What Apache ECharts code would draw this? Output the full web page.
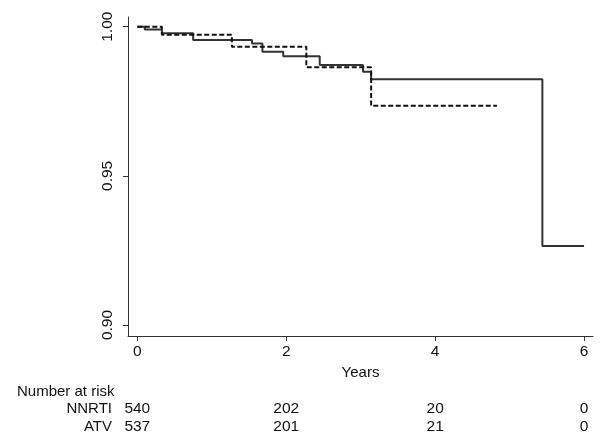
<!DOCTYPE html>
<html>
<head>
<meta charset="utf-8">
<script src="https://cdn.jsdelivr.net/npm/echarts@6/dist/echarts.min.js"></script>
<style>
html,body{margin:0;padding:0;background:#fff;}
#c{width:600px;height:444px;}
</style>
</head>
<body>
<div id="c"></div>
<script>
// Kaplan-Meier step data (time in years, survival)
var timesNNRTI = [0, 0.10, 0.33, 0.75, 1.54, 1.68, 1.96, 2.45, 3.03, 3.14, 5.44, 6.0];
var survNNRTI  = [1.000, 0.9991, 0.9978, 0.9955, 0.9944, 0.9916, 0.9901, 0.9872, 0.9849, 0.9824, 0.9265, 0.9265];
var timesATV   = [0, 0.33, 1.27, 2.27, 3.14, 4.83];
var survATV    = [1.000, 0.9973, 0.9933, 0.9864, 0.9735, 0.9735];

var xTicks = [0, 2, 4, 6];
var yTicks = [0.90, 0.95, 1.00];
var riskTimes = [0, 2, 4, 6];
var riskNNRTI = [540, 202, 20, 0];
var riskATV   = [537, 201, 21, 0];
var groupNames = ['NNRTI', 'ATV'];

function pairs(t, s) { return t.map(function (v, i) { return [v, s[i]]; }); }
function riskLookup(arr) {
  return function (v) {
    var i = riskTimes.indexOf(Math.round(v));
    return i >= 0 ? String(arr[i]) : '';
  };
}

var font = 'Liberation Sans, Arial, sans-serif';
var txt = '#111';
var axisCol = '#333';
var xMin = -0.125, xMax = 6.12;

function riskAxis(name, arr, off) {
  return {
    type: 'value', min: xMin, max: xMax, position: 'bottom', offset: off,
    axisLine: { show: false }, axisTick: { show: false }, splitLine: { show: false },
    name: name, nameLocation: 'start', nameGap: 16,
    nameTextStyle: { fontFamily: font, fontSize: 15, color: txt, align: 'right', verticalAlign: 'middle' },
    axisLabel: {
      customValues: riskTimes, formatter: riskLookup(arr), margin: 0,
      verticalAlign: 'middle', fontFamily: font, fontSize: 15.5, color: txt
    }
  };
}

var chart = echarts.init(document.getElementById('c'), null, { renderer: 'canvas' });
chart.setOption({
  animation: false,
  backgroundColor: '#fff',
  grid: { left: 128, right: 7, top: 17, bottom: 108, containLabel: false },
  title: {
    text: 'Number at risk', left: 12, top: 379,
    textStyle: { fontFamily: font, fontSize: 15, fontWeight: 'normal', color: txt }
  },
  xAxis: [
    {
      type: 'value', min: xMin, max: xMax,
      name: 'Years', nameLocation: 'middle', nameGap: 25,
      nameTextStyle: { fontFamily: font, fontSize: 15, color: txt },
      axisLine: { show: true, onZero: false, lineStyle: { color: axisCol, width: 1 } },
      axisTick: { show: true, customValues: xTicks, length: 5, lineStyle: { color: axisCol } },
      axisLabel: { customValues: xTicks, margin: 8, fontFamily: font, fontSize: 15.5, color: txt },
      splitLine: { show: false }
    },
    riskAxis(groupNames[0], riskNNRTI, 73),
    riskAxis(groupNames[1], riskATV, 91)
  ],
  yAxis: {
    type: 'value', min: 0.89631, max: 1.00325,
    axisLine: { show: true, onZero: false, lineStyle: { color: axisCol, width: 1 } },
    axisTick: { show: true, customValues: yTicks, length: 5, lineStyle: { color: axisCol } },
    axisLabel: {
      customValues: yTicks, rotate: 90, margin: 12,
      formatter: function (v) { return v.toFixed(2); },
      fontFamily: font, fontSize: 15.5, color: txt
    },
    splitLine: { show: false }
  },
  series: [
    {
      name: groupNames[0], type: 'line', step: 'end', xAxisIndex: 0,
      data: pairs(timesNNRTI, survNNRTI), showSymbol: false, symbol: 'none',
      lineStyle: { color: '#333', width: 2, type: 'solid' }
    },
    {
      name: groupNames[1], type: 'line', step: 'end', xAxisIndex: 0,
      data: pairs(timesATV, survATV), showSymbol: false, symbol: 'none',
      lineStyle: { color: '#111', width: 2, type: [5, 2.5] }
    }
  ]
});
</script>
</body>
</html>
